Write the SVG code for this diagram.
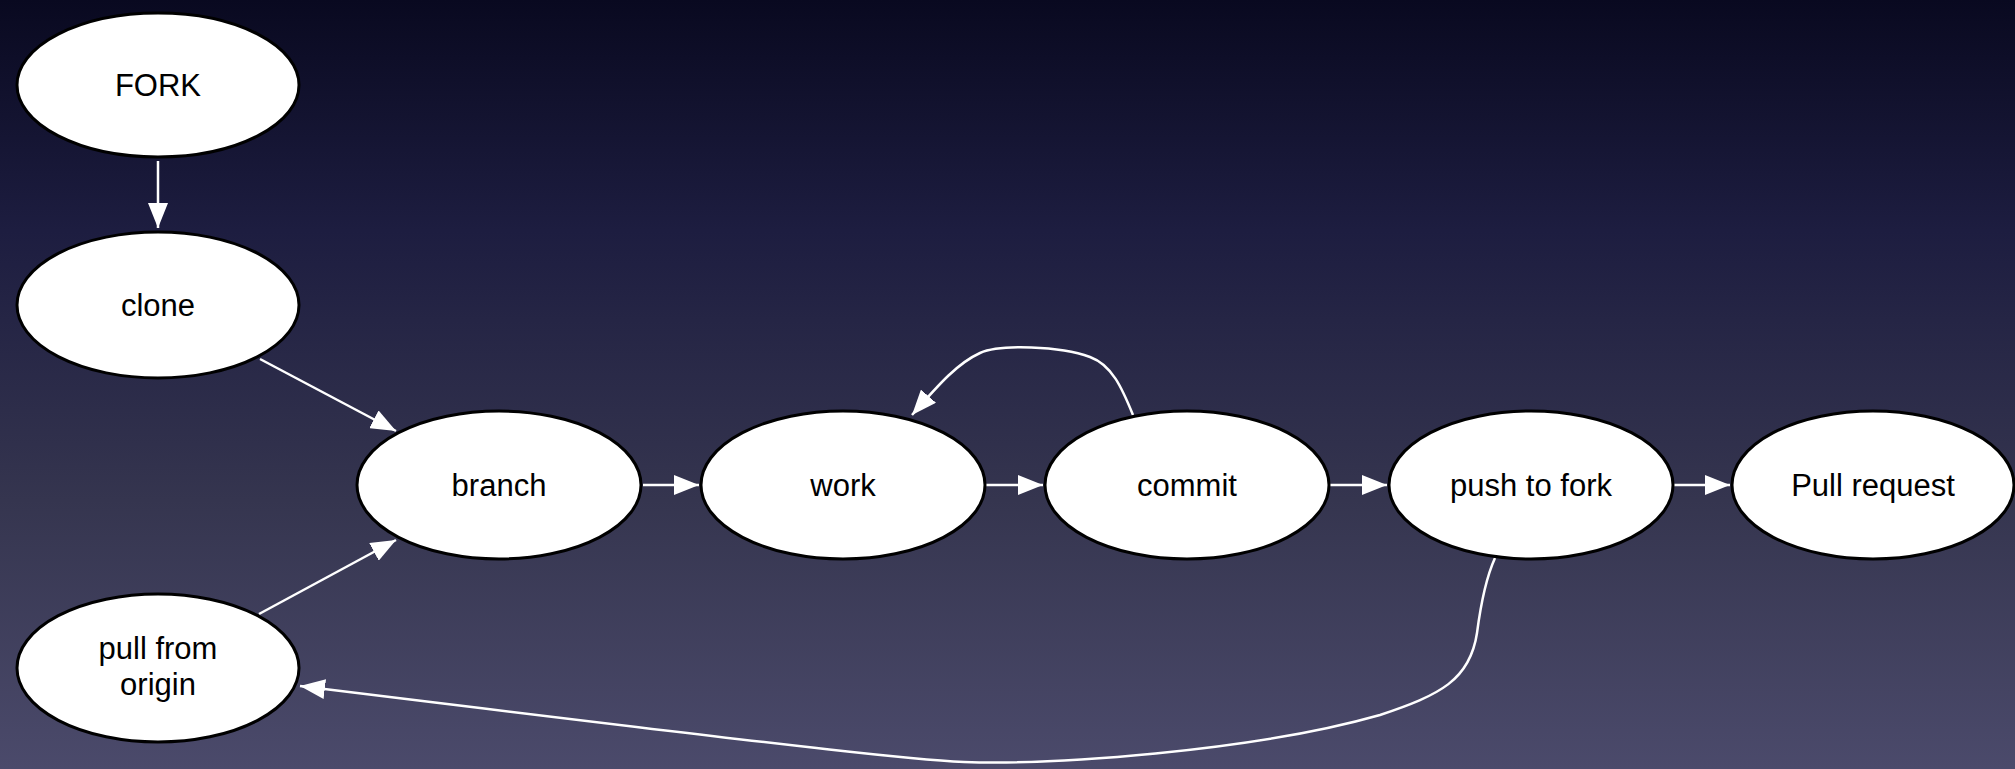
<svg xmlns="http://www.w3.org/2000/svg" width="2015" height="769" viewBox="0 0 2015 769">
  <defs>
    <linearGradient id="bg" x1="0" y1="0" x2="0" y2="1">
      <stop offset="0" stop-color="#090920"/>
      <stop offset="0.3" stop-color="#1d1d40"/>
      <stop offset="0.65" stop-color="#35354f"/>
      <stop offset="1" stop-color="#4b4a6b"/>
    </linearGradient>
    <marker id="arrow" markerWidth="26" markerHeight="20" refX="25" refY="10" orient="auto" markerUnits="userSpaceOnUse">
      <path d="M0,0 L25,10 L0,20 Z" fill="#ffffff"/>
    </marker>
    <style>
      .node ellipse { fill: #ffffff; stroke: #000000; stroke-width: 3; }
      .node text { font-family: "Liberation Sans", Arial, Helvetica, sans-serif; font-size: 31px; fill: #000000; text-anchor: middle; }
      .edge { fill: none; stroke: #ffffff; stroke-width: 2.5; marker-end: url(#arrow); }
    </style>
  </defs>
  <rect x="0" y="0" width="2015" height="769" fill="url(#bg)"/>

  <g id="connectors">
    <path class="edge" d="M158,161 L158,228"/>
    <path class="edge" d="M260,359 L396,431"/>
    <path class="edge" d="M259,614 L396,540"/>
    <path class="edge" d="M643,485 L699,485"/>
    <path class="edge" d="M986,485 L1043,485"/>
    <path class="edge" d="M1330,485 L1387,485"/>
    <path class="edge" d="M1673,485 L1730,485"/>
    <path class="edge" d="M1133,415 C1122,388 1112,365 1090,357 C1060,346 1000,344 980,353 C958,363 940,383 912,415"/>
    <path class="edge" d="M1495,558 C1485,580 1480,610 1477,633 C1470,680 1440,695 1380,715 C1250,752 1050,765 964,762 C920,760 870,756 300,686"/>
  </g>

  <g id="node-fork" class="node">
    <ellipse cx="158" cy="85" rx="141" ry="72"/>
    <text x="158" y="96">FORK</text>
  </g>
  <g id="node-clone" class="node">
    <ellipse cx="158" cy="305" rx="141" ry="73"/>
    <text x="158" y="316">clone</text>
  </g>
  <g id="node-branch" class="node">
    <ellipse cx="499" cy="485" rx="142" ry="74"/>
    <text x="499" y="496">branch</text>
  </g>
  <g id="node-pull-from-origin" class="node">
    <ellipse cx="158" cy="668" rx="141" ry="74"/>
    <text x="158" y="659">pull from</text>
    <text x="158" y="695">origin</text>
  </g>
  <g id="node-work" class="node">
    <ellipse cx="843" cy="485" rx="142" ry="74"/>
    <text x="843" y="496">work</text>
  </g>
  <g id="node-commit" class="node">
    <ellipse cx="1187" cy="485" rx="142" ry="74"/>
    <text x="1187" y="496">commit</text>
  </g>
  <g id="node-push-to-fork" class="node">
    <ellipse cx="1531" cy="485" rx="142" ry="74"/>
    <text x="1531" y="496">push to fork</text>
  </g>
  <g id="node-pull-request" class="node">
    <ellipse cx="1873" cy="485" rx="141" ry="74"/>
    <text x="1873" y="496">Pull request</text>
  </g>
</svg>
